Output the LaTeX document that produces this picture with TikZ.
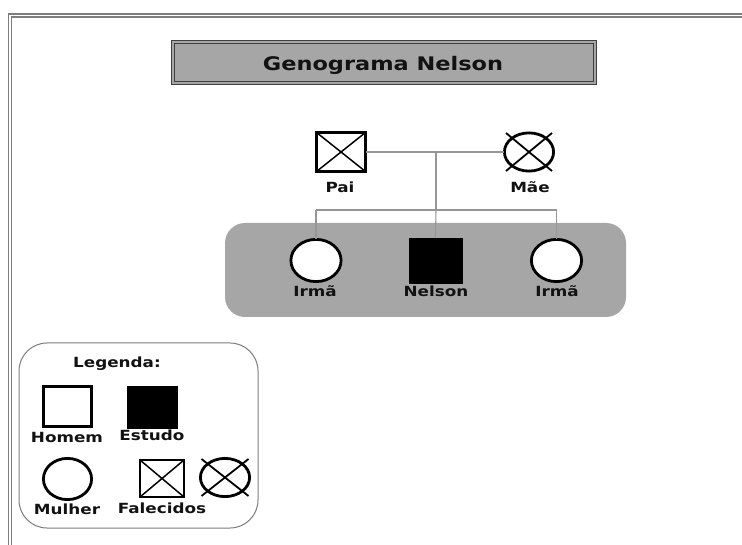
\documentclass[tikz,border=0pt]{standalone}
\usepackage{fontspec}
\newfontfamily\lblfont{DejaVu Sans}[FakeStretch=1.2]
\usetikzlibrary{shapes.geometric,calc}
\definecolor{boxgray}{RGB}{166,166,166}
\definecolor{linegray}{RGB}{150,150,150}
\definecolor{framegray}{RGB}{125,125,125}
\definecolor{txt}{RGB}{18,18,18}
\begin{document}
\begin{tikzpicture}[x=1pt,y=-1pt,
  male/.style={rectangle, draw=black, line width=2.8pt, fill=white, inner sep=0pt, outer sep=0pt},
  female/.style={ellipse, draw=black, line width=2.8pt, fill=white, inner sep=0pt, outer sep=0pt},
  study/.style={rectangle, draw=black, fill=black, line width=0.5pt, inner sep=0pt, outer sep=0pt},
  deadm/.style={male, path picture={\draw[black, line width=1.5pt]
      (path picture bounding box.north west) -- (path picture bounding box.south east)
      (path picture bounding box.south west) -- (path picture bounding box.north east);}},
  xline/.style={black, line width=1.8pt},
  conn/.style={linegray, line width=1.1pt},
  lbl/.style={font=\lblfont\bfseries\fontsize{14}{16}\selectfont, text=txt, inner sep=0pt, anchor=base},
  ttl/.style={font=\lblfont\bfseries\fontsize{18.7}{20}\selectfont, text=txt, inner sep=0pt, anchor=base},
  framel/.style={framegray, line width=1.2pt}
]
\useasboundingbox (0,0) rectangle (742,545);
\fill[white] (0,0) rectangle (742,545);
% page frame
\draw[framel] (8.5,545) -- (8.5,14) -- (742,14);
\draw[framel] (11.5,545) -- (11.5,17) -- (742,17);
% title
\node[rectangle, minimum width=422pt, minimum height=41pt, inner sep=0pt,
      fill=boxgray, draw=black!75, line width=0.8pt, double=boxgray, double distance=1.8pt] (title) at (384,62.5) {};
\node[ttl] (titletext) at (383,71) {Genograma Nelson};
% parents
\node[deadm, minimum width=49.2pt, minimum height=39.2pt] (pai) at (341,152) {};
\node[female, minimum width=49.2pt, minimum height=38.2pt] (mae) at (529,152) {};
\draw[xline] ($(mae.center)+(-23,-19)$) -- ($(mae.center)+(23,19)$);
\draw[xline] ($(mae.center)+(-23,19)$) -- ($(mae.center)+(23,-19)$);
\node[lbl] (pailbl) at (340,193) {Pai};
\node[lbl] (maelbl) at (530,193) {Mãe};
% sibling group background
\node[rectangle, rounded corners=20pt, fill=boxgray, minimum width=401pt, minimum height=94pt, inner sep=0pt] (grp) at (425.5,270) {};
% connectors
\coordinate (mid) at (436,152);
\coordinate (sib) at (436,210);
\coordinate (s1) at (316,210);
\coordinate (s3) at (556.5,210);
\draw[conn] (pai.east) -- (mae.west);
\draw[conn] (mid) -- (sib);
\draw[conn] (s1) -- (s3);
% children
\node[female, minimum width=50.2pt, minimum height=42.2pt] (irma1) at (316,260.5) {};
\node[study, minimum width=53pt, minimum height=45pt] (nelson) at (435.5,260.5) {};
\node[female, minimum width=50.2pt, minimum height=42.2pt] (irma2) at (556.5,260.5) {};
\draw[conn] (s1) -- (irma1.north);
\draw[conn] (sib) -- (nelson.north);
\draw[conn] (s3) -- (irma2.north);
\node[lbl] (irma1lbl) at (315,297) {Irmã};
\node[lbl] (nelsonlbl) at (436,297) {Nelson};
\node[lbl] (irma2lbl) at (557,297) {Irmã};
% legend
\node[rectangle, rounded corners=28pt, draw=framegray, line width=1pt, fill=white,
      minimum width=239pt, minimum height=185pt, inner sep=0pt] (leg) at (138.5,435.5) {};
\node[lbl] (legtitle) at (117,368) {Legenda:};
\node[male, minimum width=48.2pt, minimum height=40.2pt] (homem) at (67.5,406.5) {};
\node[lbl] (homemlbl) at (67,442) {Homem};
\node[study, minimum width=50pt, minimum height=42pt] (estudo) at (152,407) {};
\node[lbl] (estudolbl) at (152,440) {Estudo};
\node[female, minimum width=48.2pt, minimum height=41.2pt] (mulher) at (67.5,479) {};
\node[lbl] (mulherlbl) at (67,514) {Mulher};
\node[deadm, line width=2.2pt, minimum width=43.8pt, minimum height=36.8pt] (falm) at (162,478.5) {};
\node[female, minimum width=49.2pt, minimum height=38.2pt] (falf) at (225,477.5) {};
\draw[xline] ($(falf.center)+(-23.5,-18.5)$) -- ($(falf.center)+(23.5,18.5)$);
\draw[xline] ($(falf.center)+(-23.5,18.5)$) -- ($(falf.center)+(23.5,-18.5)$);
\node[lbl] (fallbl) at (162,513) {Falecidos};
\end{tikzpicture}
\end{document}
